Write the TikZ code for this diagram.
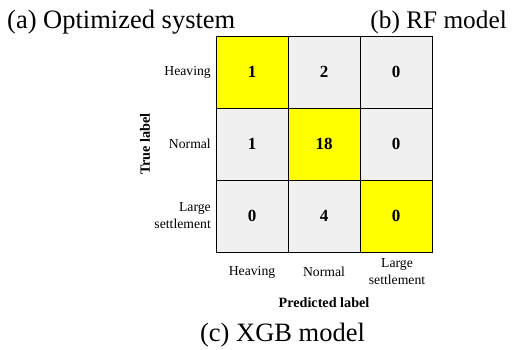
\documentclass[tikz,border=0pt]{standalone}
\usepackage{fontspec}
\setmainfont{Liberation Serif}
\definecolor{cellgray}{HTML}{F0F0F0}
\definecolor{cellyellow}{HTML}{FFFF00}
\begin{document}
\begin{tikzpicture}[x=1pt,y=-1pt,
  cell/.style={draw=black, line width=0.9pt, minimum size=72pt, inner sep=0pt,
    font=\fontsize{17}{19}\selectfont\bfseries},
  hit/.style={cell, fill=cellyellow},
  miss/.style={cell, fill=cellgray},
  ticklabel/.style={font=\fontsize{13.7}{17}\selectfont, inner sep=0pt},
  axislabel/.style={font=\fontsize{14.2}{16}\selectfont\bfseries, inner sep=0pt},
  caption/.style={font=\fontsize{26.5}{30}\selectfont, inner sep=0pt}]
\useasboundingbox (0,0) rectangle (516,350);

% panel captions
\node[caption, anchor=base west] (capa) at (7,29) {(a) Optimized system};
\node[caption, anchor=base east, font=\fontsize{25.3}{30}\selectfont] (capb) at (507,29) {(b) RF model};
\node[caption, anchor=base] (capc) at (282.5,341) {(c) XGB model};

% confusion matrix cells
\node[hit]  (c11) at (252,72)  {1};
\node[miss] (c12) at (324,72)  {2};
\node[miss] (c13) at (396,72)  {0};
\node[miss] (c21) at (252,144) {1};
\node[hit]  (c22) at (324,144) {18};
\node[miss] (c23) at (396,144) {0};
\node[miss] (c31) at (252,216) {0};
\node[miss] (c32) at (324,216) {4};
\node[hit]  (c33) at (396,216) {0};

% true-class tick labels
\node[ticklabel, anchor=east] (r1) at (211,72)  {Heaving};
\node[ticklabel, anchor=east] (r2) at (211,144) {Normal};
\node[ticklabel, anchor=east, align=right] (r3) at (211,216) {Large\\settlement};

% predicted-class tick labels
\node[ticklabel] (k1) at (252,272) {Heaving};
\node[ticklabel] (k2) at (324,272) {Normal};
\node[ticklabel, align=center] (k3) at (397,271.5) {Large\\settlement};

% axis titles
\node[axislabel, rotate=90] (ylab) at (145,144) {True label};
\node[axislabel] (xlab) at (324,303) {Predicted label};
\end{tikzpicture}
\end{document}
